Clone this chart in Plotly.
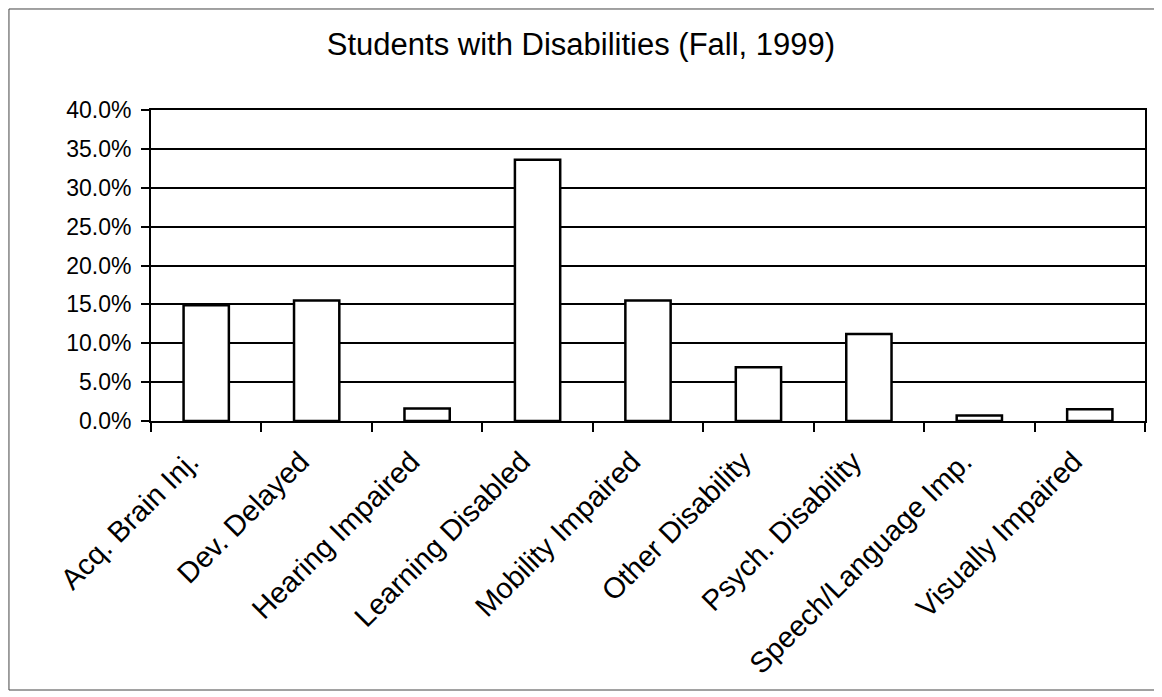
import plotly.graph_objects as go

categories = [
    "Acq. Brain Inj.", "Dev. Delayed", "Hearing Impaired", "Learning Disabled",
    "Mobility Impaired", "Other Disability", "Psych. Disability",
    "Speech/Language Imp.", "Visually Impaired",
]
shares = [0.149, 0.155, 0.016, 0.336, 0.155, 0.069, 0.112, 0.007, 0.015]
y_ticks = [0, 0.05, 0.10, 0.15, 0.20, 0.25, 0.30, 0.35, 0.40]

FONT = "Liberation Sans, Arial, sans-serif"

fig = go.Figure(go.Bar(
    x=categories, y=shares,
    marker=dict(color="white", line=dict(color="black", width=2.5)),
    width=0.41,
))

# page has an 8px body margin, so the figure is sized to fit the window
fig.update_layout(
    title=dict(text="Students with Disabilities (Fall, 1999)", x=0.4965, xanchor="center",
               y=0.947, yanchor="middle", font=dict(family=FONT, size=31, color="black")),
    width=1154, height=689,
    margin=dict(l=143, r=17, t=102, b=276),
    paper_bgcolor="white", plot_bgcolor="white",
    font=dict(family=FONT, color="black"),
    showlegend=False,
    shapes=[dict(type="rect", xref="paper", yref="paper",
                 x0=-0.1429, x1=1.0151, y0=-0.865, y1=1.3248,
                 line=dict(color="#444", width=1))],
)
fig.update_xaxes(
    type="category", tickangle=-45, ticks="outside", tickson="boundaries", ticklen=9,
    tickcolor="black", tickwidth=1.5, showline=True, linecolor="black", linewidth=2,
    mirror=True, showgrid=False, tickfont=dict(family=FONT, size=29, color="black"),
    ticklabelshift=-16, ticklabelstandoff=10,
)
fig.update_yaxes(
    range=[0, 0.40], tickvals=y_ticks, tickformat=".1%", ticks="outside", ticklen=8,
    tickcolor="black", tickwidth=1.5, showline=True, linecolor="black", linewidth=2,
    mirror=True, showgrid=True, gridcolor="black", gridwidth=1.5, zeroline=False,
    tickfont=dict(family=FONT, size=23, color="black"), ticklabelstandoff=5,
)

fig.write_html("out.html")
